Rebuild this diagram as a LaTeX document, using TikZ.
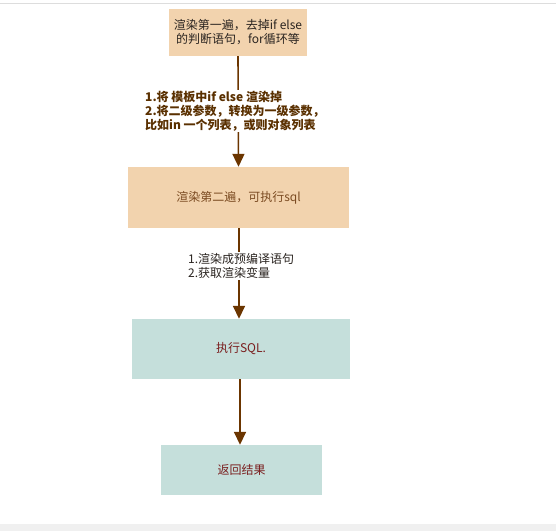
\documentclass[tikz,border=0pt]{standalone}
\usepackage{fontspec}
\usetikzlibrary{arrows.meta}
\newfontfamily\cjk{Noto Sans CJK SC}
\definecolor{peach}{HTML}{F2D3AE}
\definecolor{mint}{HTML}{C5DFDB}
\definecolor{flow}{HTML}{6B3500}
\definecolor{inkdark}{HTML}{2A2420}
\definecolor{inkbrown}{HTML}{7B4B22}
\definecolor{inkred}{HTML}{7A1F1F}
\definecolor{inklabel}{HTML}{5A3000}
\definecolor{framegray}{HTML}{DDDDDD}
\definecolor{bandgray}{HTML}{F0F0F0}
\tikzset{
  stepbox/.style={inner sep=0pt, font=\cjk\fontsize{12}{14}\selectfont, align=center},
  flowline/.style={draw=flow, line width=1.6pt, -{Triangle[width=12pt,length=13pt]}},
  edgetext/.style={fill=white, inner sep=1pt, align=left, font=\cjk\fontsize{12}{14}\selectfont}
}
\begin{document}
\begin{tikzpicture}[x=1pt,y=-1pt]
  % canvas and page chrome
  \fill[white] (0,0) rectangle (556,531);
  \useasboundingbox (0,0) rectangle (556,531);
  \draw[framegray, line width=1pt] (0,3) -- (556,3);
  \fill[bandgray] (0,524) rectangle (556,531);

  % process steps
  \node[stepbox, fill=peach, minimum width=138pt, minimum height=47pt, text=inkdark]
    (render1) at (238,32.5) {渲染第一遍，去掉if else\\的判断语句，for循环等};
  \node[stepbox, fill=peach, minimum width=221pt, minimum height=61pt, text=inkbrown]
    (render2) at (238.5,197.5) {渲染第二遍，可执行sql};
  \node[stepbox, fill=mint, minimum width=218pt, minimum height=60pt, text=inkred]
    (exec) at (241,349) {执行SQL.};
  \node[stepbox, fill=mint, minimum width=161pt, minimum height=50pt, text=inkred]
    (result) at (241.5,470) {返回结果};

  % connectors
  \draw[flowline] (render1.south) -- (render2.north);
  \draw[flowline] (render2.south -| 239,0) -- (exec.north -| 239,0);
  \draw[flowline] (exec.south -| 240,0) -- (result.north -| 240,0);

  % connector labels
  \node[edgetext, anchor=west, text=inklabel, font=\cjk\bfseries\fontsize{12}{14}\selectfont]
    (lbl1) at (144,111) {1.将 模板中if else 渲染掉\\2.将二级参数，转换为一级参数，\\比如in 一个列表，或则对象列表};
  \node[edgetext, anchor=west, text=inkdark]
    (lbl2) at (187,266) {1.渲染成预编译语句\\2.获取渲染变量};
\end{tikzpicture}
\end{document}
